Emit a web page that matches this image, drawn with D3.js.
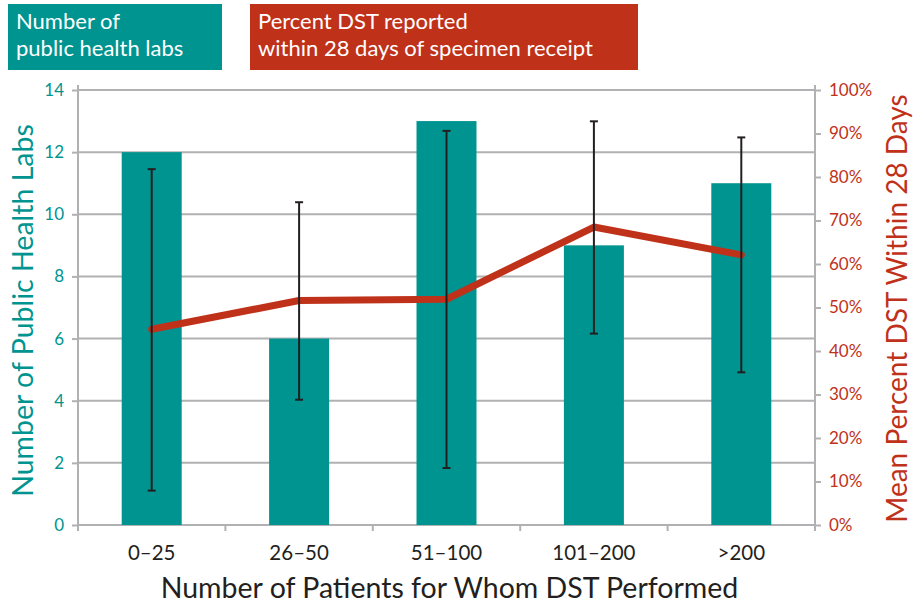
<!DOCTYPE html>
<html><head><meta charset="utf-8">
<script src="https://cdn.jsdelivr.net/npm/d3@7"></script>
<style>body{margin:0;background:#fff}svg{display:block}</style>
</head><body>
<script>
const categories = ["0–25","26–50","51–100","101–200",">200"];
const labCounts = [12, 6, 13, 9, 11];
const pctWithin28 = [45.0, 51.6, 51.9, 68.5, 62.1];
const pctErrLow = [7.9, 28.8, 13.1, 44.0, 35.1];
const pctErrHigh = [81.8, 74.2, 90.6, 92.8, 89.1];
const leftTicks = [0,2,4,6,8,10,12,14];
const rightTicks = [0,10,20,30,40,50,60,70,80,90,100];

const W=913,H=605;
const teal="#009490", red="#c0311a", gray="#b1b1b3", dark="#231f20";
const font="Lato, 'Open Sans', sans-serif";
const m={l:78,r:815,t:90,b:525};
const svg=d3.select("body").append("svg").attr("width",W).attr("height",H).style("font-family",font);

const x=d3.scaleBand().domain(categories).range([m.l,m.r]).paddingInner(0.593).paddingOuter(0.2965);
const xb=d3.scaleBand().domain(categories).range([m.l,m.r]);
const yL=d3.scaleLinear().domain([0,14]).range([m.b,m.t]);
const yR=d3.scaleLinear().domain([0,100]).range([m.b,m.t]);

// gridlines
svg.append("g").selectAll("line").data(leftTicks).join("line")
  .attr("x1",m.l).attr("x2",m.r).attr("y1",d=>yL(d)).attr("y2",d=>yL(d))
  .attr("stroke",gray).attr("stroke-width",2);

// bars
svg.append("g").selectAll("rect").data(categories).join("rect")
  .attr("x",d=>x(d)).attr("width",x.bandwidth())
  .attr("y",(d,i)=>yL(labCounts[i])).attr("height",(d,i)=>yL(0)-yL(labCounts[i]))
  .attr("fill",teal);

// left axis
const gL=svg.append("g").attr("transform",`translate(${m.l},0)`)
  .call(d3.axisLeft(yL).tickValues(leftTicks).tickSize(6).tickPadding(8).tickSizeOuter(0));
gL.select(".domain").remove();
gL.selectAll(".tick line").attr("stroke",gray).attr("stroke-width",2);
gL.selectAll(".tick text").attr("fill",teal).style("font-size","17px").style("font-family",font);
svg.append("line").attr("x1",m.l).attr("x2",m.l).attr("y1",m.t-5).attr("y2",m.b+6).attr("stroke",gray).attr("stroke-width",2);

// right axis
const gR=svg.append("g").attr("transform",`translate(${m.r},0)`)
  .call(d3.axisRight(yR).tickValues(rightTicks).tickFormat(d=>d+"%").tickSize(6).tickPadding(8).tickSizeOuter(0));
gR.select(".domain").remove();
gR.selectAll(".tick line").attr("stroke",gray).attr("stroke-width",2);
gR.selectAll(".tick text").attr("fill",red).style("font-size","17px").style("font-family",font);
svg.append("line").attr("x1",m.r).attr("x2",m.r).attr("y1",m.t-5).attr("y2",m.b+6).attr("stroke",gray).attr("stroke-width",2);

// bottom axis ticks at band boundaries
svg.append("g").selectAll("line").data(categories.slice(1)).join("line")
  .attr("x1",d=>xb(d)).attr("x2",d=>xb(d)).attr("y1",m.b).attr("y2",m.b+6)
  .attr("stroke",gray).attr("stroke-width",2);
svg.append("g").selectAll("text").data(categories).join("text")
  .attr("x",d=>xb(d)+xb.bandwidth()/2).attr("y",560).attr("text-anchor","middle")
  .attr("fill",dark).style("font-size","20.5px").text(d=>d);

// line
const cx=d=>xb(d)+xb.bandwidth()/2;
svg.append("path").datum(categories)
  .attr("d",d3.line().x(d=>cx(d)).y((d,i)=>yR(pctWithin28[i])))
  .attr("fill","none").attr("stroke",red).attr("stroke-width",7).attr("stroke-linejoin","round").attr("stroke-linecap","round");

// error bars
const eb=svg.append("g").attr("stroke",dark).attr("stroke-width",2);
categories.forEach((c,i)=>{
  eb.append("line").attr("x1",cx(c)).attr("x2",cx(c)).attr("y1",yR(pctErrLow[i])).attr("y2",yR(pctErrHigh[i]));
  eb.append("line").attr("x1",cx(c)-4).attr("x2",cx(c)+4).attr("y1",yR(pctErrLow[i])).attr("y2",yR(pctErrLow[i]));
  eb.append("line").attr("x1",cx(c)-4).attr("x2",cx(c)+4).attr("y1",yR(pctErrHigh[i])).attr("y2",yR(pctErrHigh[i]));
});

// axis titles
svg.append("text").attr("transform",`translate(33,${(m.t+m.b)/2+3}) rotate(-90)`).attr("text-anchor","middle")
  .attr("fill",teal).style("font-size","28.5px").text("Number of Public Health Labs");
svg.append("text").attr("transform",`translate(907,${(m.t+m.b)/2+1}) rotate(-90)`).attr("text-anchor","middle")
  .attr("fill",red).style("font-size","28px").text("Mean Percent DST Within 28 Days");
svg.append("text").attr("x",(m.l+m.r)/2+3).attr("y",598).attr("text-anchor","middle")
  .attr("fill",dark).style("font-size","28.5px").text("Number of Patients for Whom DST Performed");

// legend boxes
const leg=[{x:8,w:214,c:teal,lines:["Number of","public health labs"]},
           {x:250,w:388,c:red,lines:["Percent DST reported","within 28 days of specimen receipt"]}];
leg.forEach(l=>{
  svg.append("rect").attr("x",l.x).attr("y",4).attr("width",l.w).attr("height",66).attr("fill",l.c);
  l.lines.forEach((t,j)=>svg.append("text").attr("x",l.x+8).attr("y",29+j*26.5)
    .attr("fill","#fff").style("font-size","22px").text(t));
});
</script>
</body></html>
